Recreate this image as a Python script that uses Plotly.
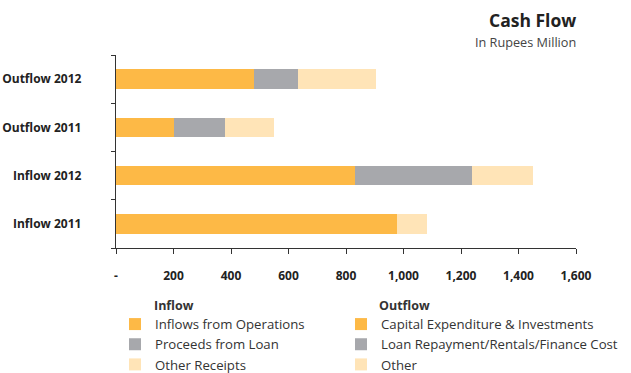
import plotly.graph_objects as go

# Data (Rupees Million)
inflow_cats = ["Inflow 2011", "Inflow 2012"]
outflow_cats = ["Outflow 2011", "Outflow 2012"]
categories = inflow_cats + outflow_cats

inflows_from_operations = [978, 830]
proceeds_from_loan = [0, 408]
other_receipts = [105, 212]

capital_expenditure = [201, 479]
loan_repayment = [178, 153]
other_outflow = [169, 272]

x_ticks = [0, 200, 400, 600, 800, 1000, 1200, 1400, 1600]
x_ticktext = ["-", "200", "400", "600", "800", "1,000", "1,200", "1,400", "1,600"]

ORANGE = "#FDB946"
GREY = "#A7A8AC"
LIGHT = "#FFE4B7"
FONT = "Open Sans"
W, H = 631, 373

fig = go.Figure()

def add(name, cats, vals, color, legend):
    fig.add_trace(go.Bar(
        y=cats, x=vals, name=name, orientation="h",
        marker=dict(color=color, line=dict(width=0)),
        legend=legend, showlegend=True,
    ))

add("Inflows from Operations", inflow_cats, inflows_from_operations, ORANGE, "legend")
add("Proceeds from Loan", inflow_cats, proceeds_from_loan, GREY, "legend")
add("Other Receipts", inflow_cats, other_receipts, LIGHT, "legend")
add("Capital Expenditure & Investments", outflow_cats, capital_expenditure, ORANGE, "legend2")
add("Loan Repayment/Rentals/Finance Cost", outflow_cats, loan_repayment, GREY, "legend2")
add("Other", outflow_cats, other_outflow, LIGHT, "legend2")

legend_common = dict(
    orientation="v", xanchor="left", yanchor="top",
    xref="container", yref="container",
    font=dict(family=FONT, size=13.2, color="#333333"),
    bgcolor="rgba(0,0,0,0)", tracegroupgap=0, traceorder="normal",
    itemclick=False, itemdoubleclick=False,
)

fig.update_layout(
    width=W, height=H,
    margin=dict(l=115.5, r=55, t=55, b=125, autoexpand=False),
    paper_bgcolor="white", plot_bgcolor="white",
    barmode="stack", bargap=0.6,
    font=dict(family=FONT, color="#333333"),
    xaxis=dict(
        range=[0, 1600], tickvals=x_ticks, ticktext=x_ticktext,
        showgrid=False, zeroline=False, automargin=False,
        showline=True, linecolor="#333333", linewidth=1,
        ticks="outside", ticklen=5, tickcolor="#333333",
        tickfont=dict(family=FONT, size=12, color="#222222", weight="bold"),
        ticklabelstandoff=12,
    ),
    yaxis=dict(
        categoryorder="array", categoryarray=categories,
        showgrid=False, zeroline=False, automargin=False,
        showline=True, linecolor="#333333", linewidth=1,
        ticks="outside", ticklen=4, tickcolor="#333333", tickson="boundaries",
        tickfont=dict(family=FONT, size=12, color="#222222", weight="bold"),
        ticksuffix="\u00a0" * 10,
    ),
    legend=dict(x=115 / W, y=1 - 309 / H, **legend_common),
    legend2=dict(x=341 / W, y=1 - 309 / H, **legend_common),
    annotations=[
        dict(text="<b>Cash Flow</b>", xref="paper", yref="paper", x=1.005, y=(248 - 20) / 193,
             xanchor="right", yanchor="middle", showarrow=False,
             font=dict(family=FONT, size=17.5, color="#222222")),
        dict(text="In Rupees Million", xref="paper", yref="paper", x=1.005, y=(248 - 42) / 193,
             xanchor="right", yanchor="middle", showarrow=False,
             font=dict(family=FONT, size=12.7, color="#444444")),
        dict(text="<b>Inflow</b>", xref="paper", yref="paper", x=(152 - 115.5) / 460.5,
             y=(248 - 305) / 193,
             xanchor="left", yanchor="middle", showarrow=False,
             font=dict(family=FONT, size=12.5, color="#333333")),
        dict(text="<b>Outflow</b>", xref="paper", yref="paper", x=(377 - 115.5) / 460.5,
             y=(248 - 305) / 193,
             xanchor="left", yanchor="middle", showarrow=False,
             font=dict(family=FONT, size=12.5, color="#333333")),
    ],
)

fig.write_html("out.html")
